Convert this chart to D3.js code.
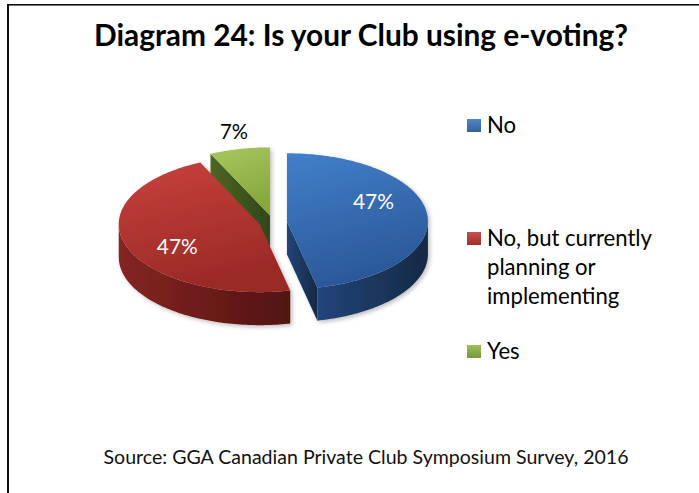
<!DOCTYPE html>
<html>
<head>
<meta charset="utf-8">
<script src="https://cdn.jsdelivr.net/npm/d3@7"></script>
<style>
  html, body { margin: 0; padding: 0; background: #fff; }
  svg { display: block; }
</style>
</head>
<body>
<svg id="chart" width="699" height="493"></svg>
<script>
// ---- data ----
const title = "Diagram 24: Is your Club using e-voting?";
const source = "Source: GGA Canadian Private Club Symposium Survey, 2016";
const categories = ["No", "No, but currently planning or implementing", "Yes"];
const legendLines = [["No"], ["No, but currently", "planning or", "implementing"], ["Yes"]];
const values = [47, 47, 7];
const valueLabels = ["47%", "47%", "7%"];

// ---- palette (top face light/dark, side light/dark, swatch) ----
const topLight  = ["#4280ca", "#c8413c", "#a8c760"];
const topDark   = ["#2b5899", "#9a2a27", "#86a83c"];
const sideLight = ["#22457a", "#862522", "#4d6622"];
const sideDark  = ["#152944", "#521311", "#32451a"];
const swatchTop = ["#4f86c6", "#c9504c", "#9fbf5a"];
const swatchBot = ["#34609a", "#9a302c", "#77973a"];

const W = 699, H = 493;
const FONT = "Lato, 'Open Sans', 'DejaVu Sans', sans-serif";
const svg = d3.select("#chart");

// size text by height, then pin its rendered width
function setWidth(sel, w) {
  sel.attr("textLength", w).attr("lengthAdjust", "spacingAndGlyphs");
}
// scale font-size so the rendered width equals w
function fitWidth(sel, w) {
  const len = sel.node().getComputedTextLength();
  const fs = parseFloat(sel.attr("font-size"));
  sel.attr("font-size", fs * w / len);
  return fs * w / len;
}

// ---- frame ----
svg.append("rect").attr("x", 7).attr("y", 4).attr("width", 2).attr("height", H - 4).attr("fill", "#111");
svg.append("rect").attr("x", 7).attr("y", 4).attr("width", W - 7).attr("height", 1.6).attr("fill", "#111");

// ---- title & source ----
const titleText = svg.append("text")
  .attr("x", 361).attr("y", 46)
  .attr("text-anchor", "middle")
  .attr("font-family", FONT).attr("font-weight", "bold")
  .attr("font-size", 29.5).attr("fill", "#000")
  .text(title);
setWidth(titleText, 534);

const sourceText = svg.append("text")
  .attr("x", 366).attr("y", 464)
  .attr("text-anchor", "middle")
  .attr("font-family", FONT)
  .attr("font-size", 18.5).attr("fill", "#111")
  .text(source);
setWidth(sourceText, 525);

// ---- 3D pie geometry ----
const cx = 273, cy = 222;   // pie centre on screen
const rx = 141, ry = 68;    // ellipse radii of the top face
const depth = 33;           // thickness of the disc
const explode = 14;         // how far each slice is pulled out

const pie = d3.pie().sort(null).value(d => d).startAngle(0).endAngle(2 * Math.PI);
const arcs = pie(values).map((a, i) => {
  const mid = (a.startAngle + a.endAngle) / 2;
  return {
    ...a, i, mid,
    ox: explode * Math.sin(mid),
    oy: -explode * Math.cos(mid) * ry / rx
  };
});

// angle measured clockwise from 12 o'clock, projected onto the tilted ellipse
const proj = (d, a, drop = 0) => [
  cx + d.ox + rx * Math.sin(a),
  cy + d.oy - ry * Math.cos(a) + drop
];
const angleSteps = (a0, a1) => {
  const n = Math.max(2, Math.ceil((a1 - a0) / 0.02));
  return d3.range(n + 1).map(k => a0 + (a1 - a0) * k / n);
};
const line = d3.line();

// ---- gradients ----
const defs = svg.append("defs");
arcs.forEach(d => {
  const gt = defs.append("linearGradient").attr("id", "top" + d.i)
    .attr("x1", 0).attr("y1", 0).attr("x2", 0.3).attr("y2", 1);
  gt.append("stop").attr("offset", "0%").attr("stop-color", topLight[d.i]);
  gt.append("stop").attr("offset", "100%").attr("stop-color", topDark[d.i]);
  const gs = defs.append("linearGradient").attr("id", "side" + d.i)
    .attr("x1", 0).attr("y1", 0).attr("x2", 1).attr("y2", 0);
  gs.append("stop").attr("offset", "0%").attr("stop-color", sideLight[d.i]);
  gs.append("stop").attr("offset", "100%").attr("stop-color", sideDark[d.i]);
  const gw = defs.append("linearGradient").attr("id", "sw" + d.i)
    .attr("x1", 0).attr("y1", 0).attr("x2", 0).attr("y2", 1);
  gw.append("stop").attr("offset", "0%").attr("stop-color", swatchTop[d.i]);
  gw.append("stop").attr("offset", "100%").attr("stop-color", swatchBot[d.i]);
});
const shadow = defs.append("filter").attr("id", "soft")
  .attr("x", "-10%").attr("y", "-10%").attr("width", "120%").attr("height", "130%");
shadow.append("feDropShadow").attr("dx", 2).attr("dy", 2)
  .attr("stdDeviation", 2).attr("flood-color", "#000").attr("flood-opacity", 0.25);

// ---- draw slices, back to front ----
const pieG = svg.append("g").attr("filter", "url(#soft)");
const order = arcs.slice().sort((a, b) => Math.cos(b.mid) - Math.cos(a.mid));

order.forEach(d => {
  const g = pieG.append("g");
  const c = [cx + d.ox, cy + d.oy];
  const cDown = [c[0], c[1] + depth];

  // radial cut faces that face the viewer
  const faces = [];
  if (Math.sin(d.startAngle) < -1e-6) faces.push(d.startAngle);
  if (Math.sin(d.endAngle) > 1e-6) faces.push(d.endAngle);
  faces.forEach(a => {
    const pts = [c, proj(d, a), proj(d, a, depth), cDown];
    g.append("path").attr("d", line(pts) + "Z")
      .attr("fill", "url(#side" + d.i + ")");
  });

  // outer curved wall on the front half of the disc
  const a0 = Math.max(d.startAngle, Math.PI / 2);
  const a1 = Math.min(d.endAngle, 3 * Math.PI / 2);
  if (a1 > a0) {
    const steps = angleSteps(a0, a1);
    const pts = steps.map(a => proj(d, a))
      .concat(steps.slice().reverse().map(a => proj(d, a, depth)));
    g.append("path").attr("d", line(pts) + "Z")
      .attr("fill", "url(#side" + d.i + ")");
  }

  // top face
  const topPts = [c].concat(angleSteps(d.startAngle, d.endAngle).map(a => proj(d, a)));
  g.append("path").attr("d", line(topPts) + "Z")
    .attr("fill", "url(#top" + d.i + ")");
});

// ---- value labels ----
const labelG = svg.append("g").attr("font-family", FONT);
arcs.forEach(d => {
  const small = (d.endAngle - d.startAngle) < 0.6;
  let x, y;
  if (small) {
    // outside the slice, beyond the rim
    x = cx + d.ox + (rx + 26) * Math.sin(d.mid);
    y = cy + d.oy - (ry + 18) * Math.cos(d.mid);
  } else {
    x = cx + d.ox + 87 * Math.sin(d.mid);
    y = cy + d.oy - 99 * Math.cos(d.mid) - 10;
  }
  const t = labelG.append("text")
    .attr("x", x).attr("y", y)
    .attr("text-anchor", "middle").attr("dominant-baseline", "central")
    .attr("font-size", 20.5)
    .attr("fill", small ? "#000" : "#fff")
    .text(valueLabels[d.i]);
  setWidth(t, small ? 28 : 41);
});

// ---- legend ----
const legendTop = [119, 232, 345];
const legendG = svg.append("g").attr("font-family", FONT);
const probe = legendG.append("text").attr("font-size", 20).text(legendLines[1][0]);
const legendFs = fitWidth(probe, 165);
probe.remove();

categories.forEach((cat, i) => {
  legendG.append("rect")
    .attr("x", 467).attr("y", legendTop[i])
    .attr("width", 14).attr("height", 13)
    .attr("fill", "url(#sw" + i + ")");
  const t = legendG.append("text")
    .attr("x", 487).attr("y", legendTop[i] + 13.5)
    .attr("font-size", legendFs).attr("fill", "#000");
  legendLines[i].forEach((ln, k) => {
    t.append("tspan").attr("x", 487).attr("dy", k === 0 ? 0 : 29).text(ln);
  });
});
</script>
</body>
</html>
